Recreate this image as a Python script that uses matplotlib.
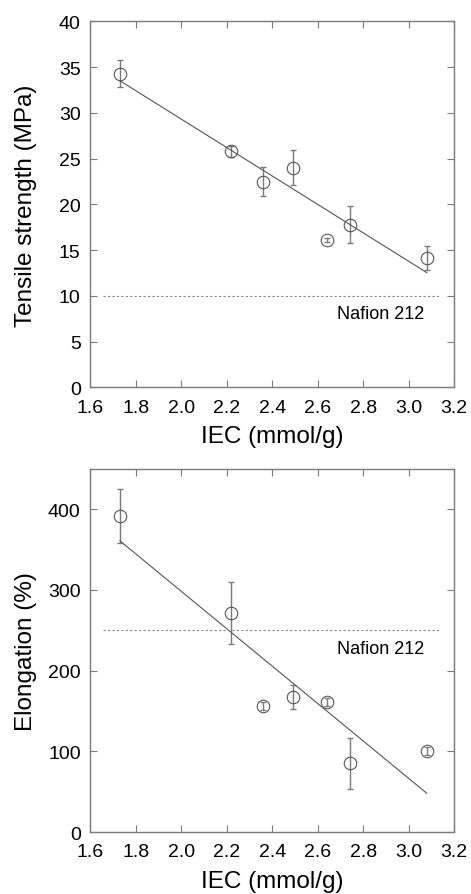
import matplotlib
matplotlib.use("Agg")
import matplotlib.pyplot as plt
import numpy as np

plt.rcParams['font.family'] = ['Liberation Sans', 'DejaVu Sans']

iec = [1.73, 2.22, 2.36, 2.49, 2.64, 2.74, 3.08]

tensile = [34.3, 25.8, 22.5, 24.0, 16.1, 17.8, 14.1]
tensile_err = [1.5, 0.6, 1.6, 1.9, 0.2, 2.0, 1.3]
nafion_tensile = 10

elong = [391.7, 271.3, 155.9, 167.1, 161.3, 85.2, 100.9]
elong_err = [33, 38, 5, 15, 5, 32, 5]
nafion_elong = 250

xticks = [1.6, 1.8, 2.0, 2.2, 2.4, 2.6, 2.8, 3.0, 3.2]

grey = '#7a7a7a'

fig = plt.figure(figsize=(4.71, 8.95), dpi=100)
ax1 = fig.add_axes([0.192, 0.566, 0.772, 0.409])
ax2 = fig.add_axes([0.192, 0.069, 0.772, 0.406])


def panel(ax, y, yerr, ref, ylim, yticks, ylabel, ref_text_y):
    x = np.array(iec)
    ax.errorbar(iec, y, yerr=yerr, fmt='none', ecolor=grey, elinewidth=1.0,
                capsize=2.5, capthick=1.0, zorder=2)
    ax.plot(iec, y, 'o', mfc='none', mec='#555555', ms=9, mew=0.8, zorder=3)
    # linear fit
    k, b = np.polyfit(x, y, 1)
    ax.plot([x[0], x[-1]], [k * x[0] + b, k * x[-1] + b], color='#555555',
            lw=0.8, zorder=2)
    ax.plot([1.657, 3.14], [ref, ref], ls=(0, (2, 2)), color='#888888', lw=0.8)
    ax.text(3.07, ref_text_y, 'Nafion 212', ha='right', va='center', fontsize=13)

    ax.set_xlim(1.6, 3.2)
    ax.set_ylim(*ylim)
    ax.set_xticks(xticks)
    ax.set_xticklabels(['%.1f' % t for t in xticks])
    ax.set_yticks(yticks)
    ax.tick_params(direction='in', top=True, right=True, length=5, width=0.8,
                   color=grey, labelsize=14)
    ax.tick_params(axis='x', pad=8)
    ax.tick_params(axis='y', pad=7)
    for s in ax.spines.values():
        s.set_color(grey)
        s.set_linewidth(1.0)
    ax.set_xlabel('IEC (mmol/g)', fontsize=17.5, labelpad=7)
    ax.set_ylabel(ylabel, fontsize=17.5)
    ax.yaxis.set_label_coords(-0.148, 0.5)


panel(ax1, tensile, tensile_err, nafion_tensile, (0, 40), range(0, 41, 5),
      'Tensile strength (MPa)', 8.1)
panel(ax2, elong, elong_err, nafion_elong, (0, 450), range(0, 401, 100),
      'Elongation (%)', 228)

fig.savefig('out.png', dpi=100)
